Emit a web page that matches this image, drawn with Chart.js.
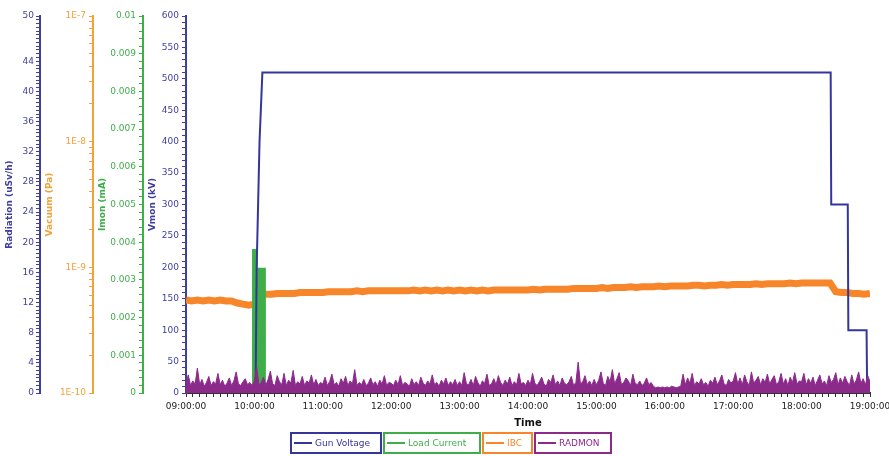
<!DOCTYPE html>
<html>
<head>
<meta charset="utf-8">
<script src="https://cdn.jsdelivr.net/npm/chart.js@4"></script>
<style>
  body { margin: 0; background: #fff; width: 889px; height: 456px; overflow: hidden; position: relative; font-family: 'DejaVu Sans', sans-serif; }
  #chart { position: absolute; left: 0; top: 0; }
  #legend { position: absolute; left: 290px; top: 432px; display: flex; gap: 1px; }
  .item { height: 22px; border: 2px solid; box-sizing: border-box; display: flex; align-items: center; font-size: 9px; padding-left: 2px; white-space: nowrap; }
  .item i { display: inline-block; width: 18px; height: 2px; margin-right: 3px; }
</style>
</head>
<body>
<canvas id="chart" width="905" height="456"></canvas>
<div id="legend"></div>
<script>
// time in minutes since midnight, 09:00 = 540, 19:00 = 1140
const timeLabels = ['09:00:00', '10:00:00', '11:00:00', '12:00:00', '13:00:00', '14:00:00',
    '15:00:00', '16:00:00', '17:00:00', '18:00:00', '19:00:00'];
const radLabels = [0, 4, 8, 12, 16, 20, 24, 28, 32, 36, 40, 44, 50];
const vacDecades = [-10, -9, -8, -7];
const vacLabels = ['1E-10', '1E-9', '1E-8', '1E-7'];
const imonLabels = ['0', '0.001', '0.002', '0.003', '0.004', '0.005', '0.006', '0.007', '0.008', '0.009', '0.01'];

// Gun Voltage (kV)
const gunTime = [540, 601, 602, 604.5, 607, 1105.5, 1106, 1120.5, 1121, 1137, 1137.5, 1140];
const gunKV = [0, 0, 200, 400, 510, 510, 300, 300, 100, 100, 0, 0];

// Load Current (mA)
const loadTime = [540, 598.5, 598.6, 602.2, 602.3, 609.3, 609.4, 1140];
const loadMA = [0, 0, 0.0038, 0.0038, 0.0033, 0.0033, 0, 0];

// IBC vacuum, every 5 min from 09:00, in units of 1E-10 Pa
const ibcStart = 540, ibcStep = 5;
const ibc = [
    5.5, 5.4, 5.5, 5.4, 5.5, 5.4, 5.5, 5.4, 5.4, 5.2, 5.1, 5.0,
    5.1, 6.0, 6.1, 6.1, 6.2, 6.2, 6.2, 6.2, 6.3, 6.3, 6.3, 6.3,
    6.3, 6.4, 6.4, 6.4, 6.4, 6.4, 6.5, 6.4, 6.5, 6.5, 6.5, 6.5,
    6.5, 6.5, 6.5, 6.5, 6.6, 6.5, 6.6, 6.5, 6.6, 6.5, 6.6, 6.5,
    6.6, 6.5, 6.6, 6.5, 6.6, 6.5, 6.6, 6.6, 6.6, 6.6, 6.6, 6.6,
    6.6, 6.7, 6.6, 6.7, 6.7, 6.7, 6.7, 6.7, 6.8, 6.8, 6.8, 6.8,
    6.8, 6.9, 6.8, 6.9, 6.9, 6.9, 7.0, 6.9, 7.0, 7.0, 7.0, 7.1,
    7.0, 7.1, 7.1, 7.1, 7.1, 7.2, 7.2, 7.1, 7.2, 7.2, 7.3, 7.2,
    7.3, 7.3, 7.3, 7.3, 7.4, 7.3, 7.4, 7.4, 7.4, 7.4, 7.5, 7.4,
    7.5, 7.5, 7.5, 7.5, 7.5, 7.5, 6.4, 6.3, 6.3, 6.2, 6.2, 6.1, 6.2
];

// RADMON (uSv/h), every 2 min from 09:00
const radStart = 540, radStep = 2;
const radmon = [
    1.3, 2.4, 1.0, 1.6, 1.2, 3.3, 1.1, 1.8, 0.9, 1.4, 2.2, 1.0, 1.5, 1.2, 2.6, 1.1, 1.7, 0.9, 1.3, 2.0, 1.0, 1.6, 2.8, 1.2, 1.0, 1.5, 1.9, 1.1, 1.4, 1.0,
    1.6, 3.5, 1.1, 1.4, 2.1, 1.0, 1.8, 2.9, 1.2, 1.0, 2.3, 1.5, 1.1, 2.6, 1.0, 1.7, 1.3, 3.0, 1.0, 1.5, 1.2, 2.2, 1.0, 1.6, 1.3, 2.4, 1.1, 1.8, 1.0, 1.4,
    1.2, 2.1, 1.0, 1.5, 2.5, 1.1, 1.4, 0.9, 1.9, 1.3, 2.2, 1.0, 1.6, 1.2, 3.1, 1.0, 1.4, 1.1, 1.8, 1.0, 1.3, 2.0, 1.1, 1.5, 0.9, 1.7, 1.2, 2.3, 1.0, 1.4,
    1.3, 1.0, 1.7, 1.1, 2.3, 1.0, 1.4, 1.2, 0.9, 1.9, 1.1, 1.5, 1.0, 2.1, 1.3, 1.0, 1.6, 1.2, 2.4, 1.1, 1.4, 0.9, 1.7, 1.2, 2.0, 1.0, 1.5, 1.1, 1.8, 1.0,
    1.5, 1.0, 2.7, 1.2, 1.1, 1.8, 1.0, 2.2, 1.4, 0.9, 1.6, 1.3, 2.5, 1.0, 1.2, 1.9, 1.1, 2.3, 1.4, 1.0, 1.7, 1.2, 2.1, 1.0, 1.5, 1.1, 2.6, 1.2, 1.4, 1.0,
    1.7, 1.1, 2.6, 1.3, 1.0, 1.5, 2.1, 1.2, 0.9, 1.8, 1.4, 2.4, 1.1, 1.6, 1.0, 2.0, 1.3, 1.1, 1.5, 2.2, 1.0, 1.4, 4.1, 1.2, 1.5, 2.3, 1.1, 1.6, 1.0, 1.8,
    1.1, 1.7, 2.8, 1.3, 1.0, 2.2, 1.5, 3.1, 1.2, 1.9, 2.7, 1.1, 1.4, 2.0, 1.6, 1.0, 2.5, 1.3, 1.1, 1.6, 1.0, 1.3, 2.0, 1.1, 1.4, 0.9, 0.7, 0.8, 0.7, 0.8,
    0.7, 0.8, 0.7, 0.9, 0.8, 0.7, 0.8, 0.9, 2.5, 1.1, 2.0, 1.3, 2.6, 1.0, 1.5, 1.2, 1.9, 1.1, 1.4, 0.9, 1.7, 1.3, 2.1, 1.1, 1.6, 2.4, 1.2, 1.0, 1.8, 1.3,
    1.6, 2.7, 1.2, 2.0, 1.1, 2.4, 1.5, 1.0, 2.8, 1.3, 1.7, 2.2, 1.1, 1.9, 1.4, 2.5, 1.2, 1.8, 2.3, 1.1, 1.5, 2.6, 1.2, 1.9, 1.0, 2.1, 1.4, 2.7, 1.2, 1.6,
    1.5, 2.6, 1.1, 1.9, 1.3, 2.1, 1.0, 1.7, 2.4, 1.2, 1.6, 1.0, 2.3, 1.4, 1.8, 2.7, 1.1, 2.0, 1.3, 2.2, 1.5, 1.0, 2.4, 1.2, 1.7, 2.8, 1.3, 1.9, 1.1, 2.3, 1.5
];

const BLUE = '#35359b';
const GREEN = '#3fae49';
const ORANGE = '#f7862a';
const PURPLE = '#8c2a8c';
const AXIS_BLUE = '#3f3fa0';
const AXIS_ORANGE = '#f2a238';

Chart.defaults.font.family = "'DejaVu Sans', sans-serif";
Chart.defaults.font.size = 9;

const pairs = (xs, ys) => xs.map((x, i) => ({ x, y: ys[i] }));
const sampled = (start, step, ys, k) => ys.map((y, i) => ({ x: start + i * step, y: y * k }));

function yAxis(color, title, width, weight, extra) {
    return Object.assign({
        position: 'left',
        weight: weight,
        border: { color: color, width: 2 },
        grid: { drawOnChartArea: false, drawTicks: true, tickLength: 4, color: color },
        title: { display: true, text: title, color: color, font: { weight: 'bold', size: 9 }, padding: { top: 4, bottom: 2 } },
        afterFit: s => { s.width = width; }
    }, extra);
}

const scales = {
    x: {
        type: 'linear', min: 540, max: 1140,
        border: { color: '#333', width: 2 },
        grid: { drawOnChartArea: false, tickLength: 4, color: '#333' },
        ticks: {
            stepSize: 6, autoSkip: false, maxRotation: 0, color: '#222', padding: 4,
            callback: v => (v % 60 === 0 ? timeLabels[(v - 540) / 60] : '')
        },
        title: { display: true, text: 'Time', color: '#111', font: { weight: 'bold', size: 10 }, padding: { top: 2, bottom: 4 } },
        afterFit: s => { s.height = 40; }
    },
    yRad: yAxis(AXIS_BLUE, 'Radiation (uSv/h)', 40, 4, {
        min: 0, max: 50,
        ticks: { stepSize: 0.5, autoSkip: false, color: AXIS_BLUE, padding: 2,
            callback: v => (radLabels.includes(v) ? String(v) : '') }
    }),
    yVac: yAxis(AXIS_ORANGE, 'Vacuum (Pa)', 53, 3, {
        type: 'logarithmic', min: 1e-10, max: 1e-7,
        afterBuildTicks: s => {
            const t = [];
            vacDecades.forEach(d => {
                for (let m = 1; m <= 9; m++) {
                    if (d === -7 && m > 1) break;
                    t.push({ value: m * Math.pow(10, d) });
                }
            });
            s.ticks = t;
        },
        ticks: { autoSkip: false, color: AXIS_ORANGE, padding: 3,
            callback: v => {
                const e = Math.log10(v);
                const i = vacDecades.indexOf(Math.round(e));
                return Math.abs(e - Math.round(e)) < 1e-6 && i >= 0 ? vacLabels[i] : '';
            } }
    }),
    yImon: yAxis(GREEN, 'Imon (mA)', 50, 2, {
        min: 0, max: 0.01,
        ticks: { stepSize: 0.0002, autoSkip: false, color: GREEN, padding: 3,
            callback: v => {
                const k = Math.round(v * 10000);
                return k % 10 === 0 ? imonLabels[k / 10] : '';
            } }
    }),
    yV: yAxis(AXIS_BLUE, 'Vmon (kV)', 43, 1, {
        min: 0, max: 600,
        ticks: { stepSize: 10, autoSkip: false, color: AXIS_BLUE, padding: 3,
            callback: v => (v % 50 === 0 ? String(v) : '') }
    })
};

const datasets = [
    { label: 'Gun Voltage', data: pairs(gunTime, gunKV), yAxisID: 'yV', borderColor: BLUE, borderWidth: 2, order: 2 },
    { label: 'Load Current', data: pairs(loadTime, loadMA), yAxisID: 'yImon', borderColor: GREEN, backgroundColor: GREEN, borderWidth: 1.5, fill: 'origin', order: 3 },
    { label: 'IBC', data: sampled(ibcStart, ibcStep, ibc, 1e-10), yAxisID: 'yVac', borderColor: ORANGE, borderWidth: 7, order: 4 },
    { label: 'RADMON', data: sampled(radStart, radStep, radmon, 1), yAxisID: 'yRad', borderColor: PURPLE, backgroundColor: PURPLE, borderWidth: 1, fill: 'origin', order: 1 }
];
datasets.forEach(d => { d.pointRadius = 0; d.tension = 0; });

new Chart(document.getElementById('chart'), {
    type: 'line',
    data: { datasets },
    options: {
        responsive: false,
        animation: false,
        layout: { padding: { top: 16, right: 35, bottom: 23, left: 0 } },
        plugins: { legend: { display: false }, tooltip: { enabled: false } },
        scales
    }
});

// legend with a bordered box per series, as in the reference
const legendWidths = [92, 98, 51, 78];
const legendColors = [BLUE, GREEN, ORANGE, PURPLE];
const legend = document.getElementById('legend');
datasets.forEach((d, i) => {
    const el = document.createElement('div');
    el.className = 'item';
    el.style.borderColor = legendColors[i];
    el.style.width = legendWidths[i] + 'px';
    el.style.color = legendColors[i];
    el.innerHTML = `<i style="background:${legendColors[i]}"></i>${d.label}`;
    legend.appendChild(el);
});
</script>
</body>
</html>
